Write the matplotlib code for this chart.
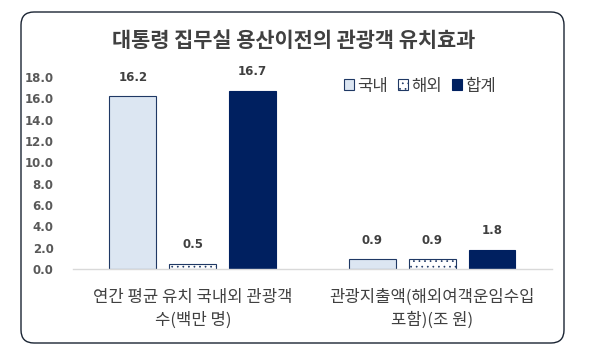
import matplotlib.pyplot as plt
import numpy as np
from matplotlib.patches import FancyBboxPatch

plt.rcParams['font.family'] = ['Noto Sans CJK KR', 'DejaVu Sans']
plt.rcParams['hatch.linewidth'] = 0.5

title = '대통령 집무실 용산이전의 관광객 유치효과'
categories = ['연간 평균 유치 국내외 관광객\n수(백만 명)', '관광지출액(해외여객운임수입\n포함)(조 원)']
series_names = ['국내', '해외', '합계']
domestic = [16.2, 0.9]
overseas = [0.5, 0.9]
total = [16.7, 1.8]
yticks = [0, 2, 4, 6, 8, 10, 12, 14, 16, 18]

fig = plt.figure(figsize=(5.89, 3.55), dpi=100)

# 둥근 테두리
box = FancyBboxPatch((0.21, 0.12), 5.43, 3.31,
                     boxstyle='round,pad=0,rounding_size=0.13',
                     transform=fig.dpi_scale_trans,
                     facecolor='white', edgecolor='#1a2433', linewidth=1.0, zorder=-10)
fig.patches.append(box)

ax = fig.add_axes([0.124, 0.242, 0.813, 0.541])
ax.set_facecolor('none')

x = np.arange(len(categories))
w = 0.196
off = 0.25
edge = '#1F3864'

b1 = ax.bar(x - off, domestic, w, color='#DCE6F2', edgecolor=edge, linewidth=0.8, label=series_names[0])
b2 = ax.bar(x, overseas, w, color='white', edgecolor=edge, linewidth=0.8, hatch='...', label=series_names[1])
b3 = ax.bar(x + off, total, w, color='#002060', edgecolor='#002060', linewidth=0.8, label=series_names[2])

for bars, vals in [(b1, domestic), (b2, overseas), (b3, total)]:
    for r, v in zip(bars, vals):
        ax.annotate('%.1f' % v, (r.get_x() + r.get_width() / 2, v),
                    xytext=(0, 9), textcoords='offset points',
                    ha='center', va='bottom', fontsize=8.5, fontweight='bold',
                    color='#404040', family=['DejaVu Sans'])

ax.set_xlim(-0.5, 1.5)
ax.set_ylim(0, 18)
ax.set_yticks(yticks)
ax.set_yticklabels(['%.1f' % t for t in yticks], fontsize=8.5, fontweight='bold',
                   color='#595959', family=['DejaVu Sans'])
ax.tick_params(axis='y', length=0, pad=14)
ax.set_xticks(x)
ax.set_xticklabels(categories, fontsize=12, color='#404040', linespacing=1.45)
ax.tick_params(axis='x', length=0, pad=14)

for s in ['top', 'right', 'left']:
    ax.spines[s].set_visible(False)
ax.spines['bottom'].set_color('#D9D9D9')
ax.spines['bottom'].set_linewidth(1.0)

leg = ax.legend(loc='upper left', bbox_to_anchor=(0.534, 1.075), ncol=3, frameon=False,
                fontsize=12, handlelength=0.6, handleheight=0.6, handletextpad=0.2,
                columnspacing=0.6, labelcolor='#404040')

fig.text(0.499, 0.887, title, ha='center', va='center', fontsize=15,
         color='#404040', fontweight='bold')

fig.savefig('out.png', dpi=100)
